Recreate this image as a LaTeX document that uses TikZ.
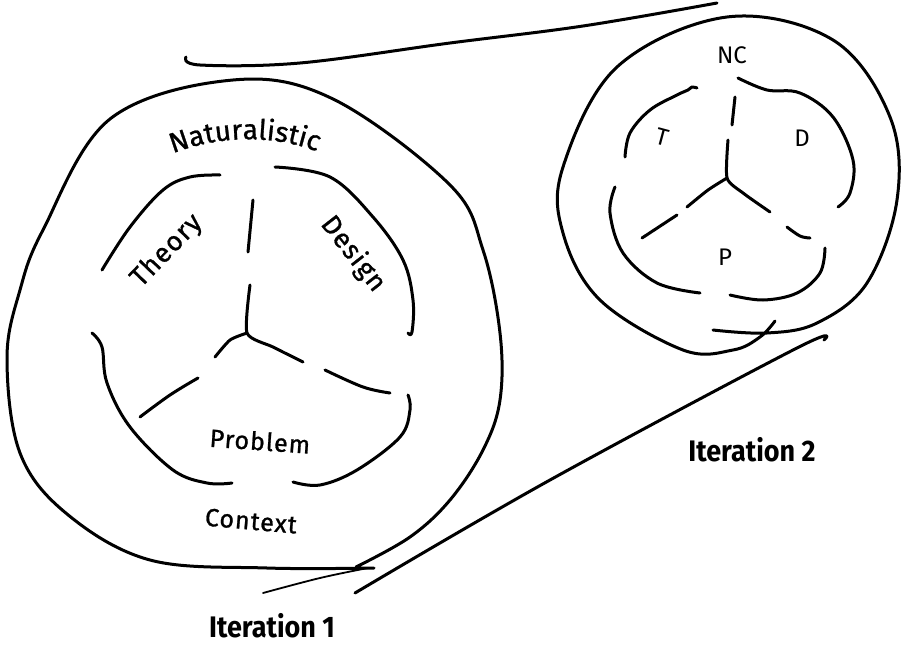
\documentclass[tikz,border=0pt]{standalone}
\usepackage{fontspec}
\setmainfont{Fira Sans}
\newfontfamily\handfont{Fira Sans}[LetterSpace=4, FakeBold=1]
\newfontfamily\handlettersfont{Fira Sans}[FakeBold=1]
\usetikzlibrary{decorations.text}
\begin{document}
\begin{tikzpicture}[x=1pt,y=-1pt,
  stroke/.style={line width=3pt, line cap=round, line join=round},
  thin stroke/.style={line width=1.8pt, line cap=round},
  lbl/.style={font=\handfont\fontsize{25}{27}\selectfont, inner sep=0pt},
  big lbl/.style={font=\handfont\fontsize{27}{29}\selectfont, inner sep=0pt},
  small lbl/.style={font=\fontsize{24}{26}\selectfont, inner sep=0pt},
  iter lbl/.style={font=\bfseries\fontsize{27}{29}\selectfont, inner sep=0pt, yscale=1.1}]
\useasboundingbox (0,0) rectangle (904,645);

% converging lines joining the two iterations
\draw[stroke] plot[smooth, tension=0.6] coordinates {(186,57) (200,65) (300,63) (450,43) (583,26) (717,3)};
\draw[stroke] plot[smooth, tension=0.6] coordinates {(355,593) (550,480) (795,349) (824,340)};

% outer loop of iteration 1 (context)
\draw[stroke] plot[smooth, tension=0.6] coordinates {
  (374,568) (267,568) (150,560) (67,514) (20,453) (7,358) (20,290) (43,230)
  (110,119) (233,80) (333,99) (450,185) (483,250) (500,333) (500,400)
  (483,450) (450,500) (410,537) (356,567)};
\draw[thin stroke] plot[smooth, tension=0.6] coordinates {(263,593) (320,578) (368,568)};

% inner arcs of iteration 1
\draw[stroke] plot[smooth, tension=0.6] coordinates {(102,270) (130,227) (163,190) (190,177) (220,175)};
\draw[stroke] plot[smooth, tension=0.6] coordinates {(275,167) (330,177) (373,217) (403,260) (413,300) (412,332) (408,333)};
\draw[stroke] plot[smooth, tension=0.6] coordinates {(92,333) (102,347) (107,383) (130,427) (173,470) (207,483) (232,483)};
\draw[stroke] plot[smooth, tension=0.6] coordinates {(293,482) (320,485) (357,470) (400,437) (410,410) (408,395)};

% spokes of iteration 1
\draw[stroke] (253,200) -- (248,252);
\draw[stroke] plot[smooth, tension=0.4] coordinates {(250,285) (247,333) (273,347) (303,362)};
\draw[stroke] plot[smooth, tension=0.4] coordinates {(247,333) (230,340) (215,357)};
\draw[stroke] plot[smooth, tension=0.6] coordinates {(198,378) (170,395) (140,417)};
\draw[stroke] plot[smooth, tension=0.6] coordinates {(325,370) (363,387) (390,393)};

% labels of iteration 1
\path[decorate, decoration={text along path, text align=center,
  text={|\handlettersfont\fontsize{28}{30}\selectfont|Naturalistic}}]
  (160,159) .. controls (213,134) and (277,132) .. (330,157);
\node[big lbl, rotate=46] (theory) at (167,251) {Theory};
\node[big lbl, rotate=-52] (design) at (353,254) {Design};
\node[lbl, rotate=-4] (problem) at (260,441) {Problem};
\node[lbl, rotate=-5] (context) at (251,521) {Context};
\node[iter lbl] (iter1) at (272,626) {Iteration 1};

% outer loop of iteration 2
\draw[stroke] plot[smooth, tension=0.6] coordinates {
  (713,330) (767,333) (817,323) (867,283) (897,200) (890,117) (833,40)
  (727,17) (617,67) (563,167) (563,233) (600,300) (683,350) (733,350)
  (760,337) (775,321)};

% inner arcs of iteration 2
\draw[stroke] plot[smooth, tension=0.6] coordinates {(625,157) (630,133) (650,110) (677,95) (688,90) (692,87) (697,88)};
\draw[stroke] plot[smooth, tension=0.6] coordinates {(738,78) (767,90) (800,93) (833,117) (853,160) (850,193) (838,207)};
\draw[stroke] plot[smooth, tension=0.6] coordinates {(615,187) (610,213) (623,253) (657,283) (700,293)};
\draw[stroke] plot[smooth, tension=0.6] coordinates {(730,295) (763,300) (797,293) (820,273) (825,248)};

% spokes of iteration 2
\draw[stroke] (735,97) -- (732,125);
\draw[stroke] plot[smooth, tension=0.4] coordinates {(728,140) (727,178) (743,193) (770,212)};
\draw[stroke] plot[smooth, tension=0.4] coordinates {(727,178) (708,190) (687,207)};
\draw[stroke] (677,215) -- (642,238);
\draw[stroke] plot[smooth, tension=0.6] coordinates {(787,227) (800,236) (810,238)};

% labels of iteration 2
\node[small lbl] (nc) at (732,55) {NC};
\node[small lbl, rotate=-15] (t) at (662,137) {T};
\node[small lbl] (d) at (802,138) {D};
\node[small lbl] (p) at (725,257) {P};
\node[iter lbl] (iter2) at (752,450) {Iteration 2};
\end{tikzpicture}
\end{document}
